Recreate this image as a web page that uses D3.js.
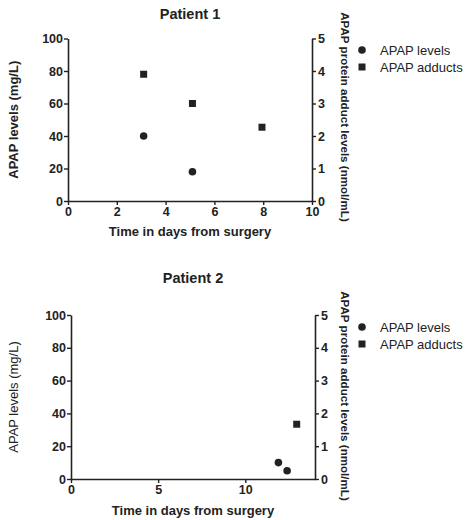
<!DOCTYPE html>
<html>
<head>
<meta charset="utf-8">
<script src="https://cdn.jsdelivr.net/npm/d3@7"></script>
<style>
  body { margin: 0; background: #fff; }
  svg { display: block; font-family: "Liberation Sans", Arial, sans-serif; }
</style>
</head>
<body>
<div id="chart"></div>
<script>
// Data
const panelTitles = ["Patient 1", "Patient 2"];
const legendLabels = ["APAP levels", "APAP adducts"];

const p1LevelDays = [3.1, 5.1];
const p1Levels = [40, 18];
const p1AdductDays = [3.1, 5.1, 7.95];
const p1Adducts = [3.9, 3.0, 2.27];

const p2LevelDays = [11.9, 12.4];
const p2Levels = [10, 5];
const p2AdductDays = [12.95];
const p2Adducts = [1.67];

const p1XTicks = [0, 2, 4, 6, 8, 10];
const p2XTicks = [0, 5, 10];
const leftTicks = [0, 20, 40, 60, 80, 100];
const rightTicks = [0, 1, 2, 3, 4, 5];

const W = 470, H = 520;
const ink = "#222";

const svg = d3.select("#chart").append("svg")
    .attr("width", W)
    .attr("height", H);

function drawPanel(opt) {
    const x = d3.scaleLinear().domain([0, opt.xMax]).range([opt.left, opt.right]);
    const yL = d3.scaleLinear().domain([0, 100]).range([opt.bottom, opt.top]);
    const yR = d3.scaleLinear().domain([0, 5]).range([opt.bottom, opt.top]);

    const g = svg.append("g");

    // Title
    g.append("text")
        .attr("x", (opt.left + opt.right) / 2)
        .attr("y", opt.titleY)
        .attr("text-anchor", "middle")
        .attr("font-size", 14.5)
        .attr("font-weight", "bold")
        .attr("fill", ink)
        .text(opt.title);

    // Axes
    const xAxis = g.append("g")
        .attr("transform", `translate(0,${opt.bottom})`)
        .call(d3.axisBottom(x).tickValues(opt.xTicks).tickFormat(d3.format("d"))
            .tickSize(4).tickPadding(2).tickSizeOuter(0));
    const leftAxis = g.append("g")
        .attr("transform", `translate(${opt.left},0)`)
        .call(d3.axisLeft(yL).tickValues(leftTicks).tickFormat(d3.format("d"))
            .tickSize(4).tickPadding(1).tickSizeOuter(0));
    const rightAxis = g.append("g")
        .attr("transform", `translate(${opt.right},0)`)
        .call(d3.axisRight(yR).tickValues(rightTicks).tickFormat(d3.format("d"))
            .tickSize(4).tickPadding(2).tickSizeOuter(0));

    [xAxis, leftAxis, rightAxis].forEach(a => {
        a.select(".domain").attr("stroke", ink).attr("stroke-width", 1.6);
        a.selectAll(".tick line").attr("stroke", ink).attr("stroke-width", 1.4);
        a.selectAll(".tick text")
            .attr("fill", ink)
            .attr("font-size", 12.5)
            .attr("font-weight", "bold")
            .attr("font-family", "Liberation Sans, Arial, sans-serif");
    });

    // Axis titles
    g.append("text")
        .attr("x", (opt.left + opt.right) / 2)
        .attr("y", opt.xTitleY)
        .attr("text-anchor", "middle")
        .attr("font-size", 13)
        .attr("font-weight", "bold")
        .attr("fill", ink)
        .text("Time in days from surgery");

    g.append("text")
        .attr("transform", `translate(${opt.leftTitleX},${(opt.top + opt.bottom) / 2}) rotate(-90)`)
        .attr("text-anchor", "middle")
        .attr("font-size", 13)
        .attr("font-weight", opt.leftTitleWeight)
        .attr("fill", ink)
        .text("APAP levels (mg/L)");

    g.append("text")
        .attr("transform", `translate(${opt.rightTitleX},${opt.rightTitleY}) rotate(90)`)
        .attr("text-anchor", "middle")
        .attr("font-size", 11.6)
        .attr("font-weight", "bold")
        .attr("fill", ink)
        .text("APAP protein adduct levels (nmol/mL)");

    // Points
    const levels = opt.levelDays.map((d, i) => ({day: d, v: opt.levels[i]}));
    const adducts = opt.adductDays.map((d, i) => ({day: d, v: opt.adducts[i]}));

    g.selectAll("circle.level")
        .data(levels)
        .enter()
        .append("circle")
        .attr("class", "level")
        .attr("cx", d => x(d.day))
        .attr("cy", d => yL(d.v))
        .attr("r", 3.8)
        .attr("fill", ink);

    const s = 7;
    g.selectAll("rect.adduct")
        .data(adducts)
        .enter()
        .append("rect")
        .attr("class", "adduct")
        .attr("x", d => x(d.day) - s / 2)
        .attr("y", d => yR(d.v) - s / 2)
        .attr("width", s)
        .attr("height", s)
        .attr("fill", ink);

    // Legend
    const leg = g.append("g").attr("transform", `translate(362,${opt.legendY})`);
    legendLabels.forEach((label, i) => {
        const row = leg.append("g").attr("transform", `translate(0,${i * 17})`);
        if (i === 0) {
            row.append("circle").attr("r", 3.8).attr("fill", ink);
        } else {
            row.append("rect").attr("x", -3.5).attr("y", -3.5)
                .attr("width", 7).attr("height", 7).attr("fill", ink);
        }
        row.append("text")
            .attr("x", 18)
            .attr("dy", "0.35em")
            .attr("font-size", 13)
            .attr("fill", ink)
            .text(label);
    });
}

drawPanel({
    title: panelTitles[0], titleY: 19,
    xMax: 10, xTicks: p1XTicks,
    left: 68, right: 312, top: 38.5, bottom: 201,
    xTitleY: 236, leftTitleX: 18, leftTitleWeight: "bold",
    rightTitleX: 341, rightTitleY: 117,
    levelDays: p1LevelDays, levels: p1Levels,
    adductDays: p1AdductDays, adducts: p1Adducts,
    legendY: 50
});

drawPanel({
    title: panelTitles[1], titleY: 283,
    xMax: 14, xTicks: p2XTicks,
    left: 71, right: 315, top: 315, bottom: 479,
    xTitleY: 515, leftTitleX: 18, leftTitleWeight: "normal",
    rightTitleX: 341, rightTitleY: 396,
    levelDays: p2LevelDays, levels: p2Levels,
    adductDays: p2AdductDays, adducts: p2Adducts,
    legendY: 327
});
</script>
</body>
</html>
